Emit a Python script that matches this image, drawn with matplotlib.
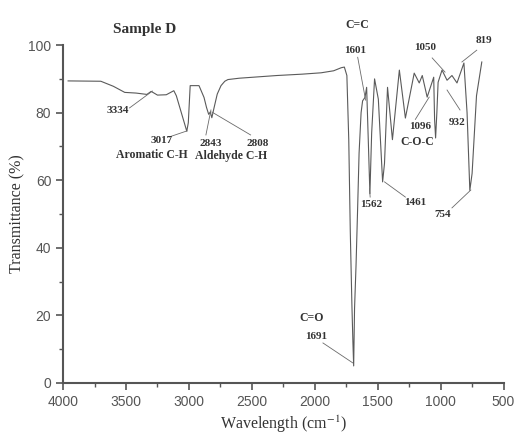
import matplotlib
matplotlib.use("Agg")
import matplotlib.pyplot as plt
from matplotlib.ticker import MultipleLocator

plt.rcParams["mathtext.fontset"] = "stix"

# IR spectrum (wavenumber, transmittance %)
wavenumber = [3960, 3700, 3600, 3510, 3420, 3334, 3300, 3250, 3180, 3120, 3100,
              3017, 3005, 2990, 2920, 2880, 2860, 2843, 2830, 2818, 2800, 2775,
              2745, 2715, 2690, 2600, 2450, 2300, 2100, 1950, 1850, 1790, 1765,
              1745, 1730, 1718, 1705, 1697, 1691, 1684, 1672, 1660, 1648, 1632,
              1620, 1601, 1588, 1575, 1562, 1548, 1525, 1495, 1461, 1446, 1422,
              1383, 1328, 1280, 1210, 1170, 1146, 1107, 1055, 1048, 1040, 1030,
              1020, 989, 949, 910, 870, 815, 790, 768, 750, 715, 673]
transmittance = [89.4, 89.3, 87.8, 86.0, 85.8, 85.4, 86.3, 85.2, 85.3, 86.5, 85.0,
                 74.5, 77.0, 88.0, 88.0, 84.5, 81.5, 79.5, 80.2, 78.5, 81.5, 85.5,
                 88.0, 89.3, 89.8, 90.2, 90.6, 91.0, 91.4, 91.8, 92.4, 93.3, 93.5,
                 91.0, 72.0, 45.0, 23.0, 12.0, 5.0, 22.0, 35.0, 51.0, 68.0, 80.0,
                 83.5, 84.5, 87.5, 72.0, 56.0, 74.0, 90.0, 84.0, 59.5, 65.0, 87.5,
                 72.0, 92.6, 78.4, 91.7, 88.8, 91.0, 84.6, 90.5, 78.0, 72.5, 80.0,
                 89.0, 92.6, 89.6, 91.0, 88.8, 94.7, 80.0, 57.0, 62.0, 85.0, 95.0]

# peak labels: text, label position, leader start, leader end (data units)
labels = ["3334", "3017", "2843", "2808", "1601", "1050", "819", "1096",
          "932", "754", "1461", "1562", "1691"]
label_x = [3566, 3220, 2825, 2455, 1683, 1123, 657, 1162, 870, 981, 1201, 1548, 1990]
label_y = [80.5, 71.9, 71.0, 71.0, 98.5, 99.2, 101.5, 76.0, 77.0, 49.7, 53.5, 52.7, 13.6]
leader_x0 = [3472, 3157, 2865, 2510, 1659, 1067, 713, 1201, 846, 910, 1280, 1560, 1935]
leader_y0 = [81.4, 72.8, 73.4, 73.4, 96.4, 96.2, 98.5, 78.0, 80.8, 51.8, 55.0, 55.0, 11.8]
leader_x1 = [3290, 3015, 2825, 2818, 1596, 965, 831, 1091, 949, 760, 1446, 1565, 1698]
leader_y1 = [86.4, 74.6, 80.8, 80.2, 83.7, 92.0, 95.0, 84.6, 86.7, 57.1, 59.5, 57.5, 5.9]

groups = ["Aromatic C-H", "Aldehyde C-H", "C=C", "C-O-C", "C=O"]
group_x = [3298, 2668, 1659, 1186, 2029]
group_y = [67.5, 67.2, 106.0, 71.3, 19.2]

serif = "Liberation Serif"

fig = plt.figure(figsize=(5.17, 4.38), dpi=100)
ax = fig.add_axes([0.122, 0.126, 0.852, 0.771])

ax.plot(wavenumber, transmittance, color="#5a5a5a", linewidth=0.8)

for t, x, y, x0, y0, x1, y1 in zip(labels, label_x, label_y, leader_x0,
                                   leader_y0, leader_x1, leader_y1):
    ax.plot([x0, x1], [y0, y1], color="#6a6a6a", linewidth=0.6, clip_on=False)
    ax.text(x, y, t, ha="center", va="center", fontsize=8, fontweight="bold",
            family=serif, color="#333333", clip_on=False)

for t, x, y in zip(groups, group_x, group_y):
    ax.text(x, y, t, ha="center", va="center", fontsize=8.5, fontweight="bold",
            family=serif, color="#333333", clip_on=False)

ax.text(3353, 104.5, "Sample D", ha="center", va="center", fontsize=11,
        fontweight="bold", family=serif, color="#333333", clip_on=False)

ax.set_xlim(4000, 500)
ax.set_ylim(0, 100)
ax.xaxis.set_major_locator(MultipleLocator(500))
ax.xaxis.set_minor_locator(MultipleLocator(250))
ax.yaxis.set_major_locator(MultipleLocator(20))
ax.yaxis.set_minor_locator(MultipleLocator(10))

for side in ["top", "right"]:
    ax.spines[side].set_visible(False)
for side in ["left", "bottom"]:
    ax.spines[side].set_color("#555555")
    ax.spines[side].set_linewidth(1.5)

ax.tick_params(which="major", direction="out", length=5, width=1.2,
               color="#555555", labelsize=10, labelcolor="#555555")
ax.tick_params(which="minor", direction="out", length=3, width=1.0,
               color="#555555")
for lab in ax.get_xticklabels() + ax.get_yticklabels():
    lab.set_family("Liberation Sans")

ax.set_xlabel("Wavelength (cm$^{-1}$)", family=serif, fontsize=11.5,
              color="#333333", labelpad=4)
ax.set_ylabel("Transmittance (%)", family=serif, fontsize=11.5,
              color="#333333", labelpad=2)

fig.savefig("out.png", dpi=100)
